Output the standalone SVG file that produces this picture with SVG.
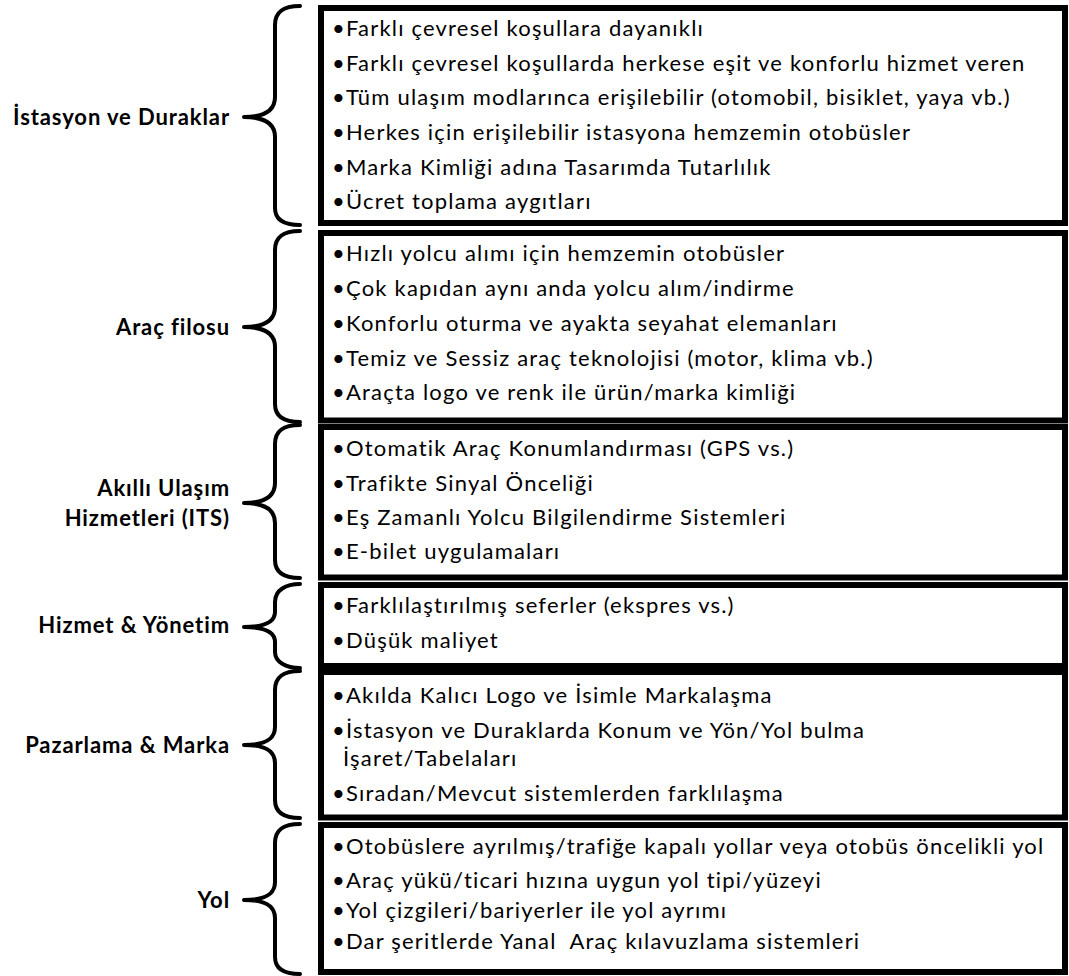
<svg xmlns="http://www.w3.org/2000/svg" width="1069" height="976" viewBox="0 0 1069 976">
  <style>
    .box { fill: #ffffff; stroke: #000000; stroke-width: 6; }
    .brace { fill: none; stroke: #000000; stroke-width: 4; stroke-linecap: round; stroke-linejoin: round; }
    .item { font-family: Lato, "Open Sans", "Liberation Sans", sans-serif; font-size: 22px; letter-spacing: 1.2px; fill: #000000; }
    .label { font-family: Lato, "Open Sans", "Liberation Sans", sans-serif; font-size: 22px; letter-spacing: 0.9px; font-weight: bold; fill: #000000; text-anchor: end; }
  </style>
  <rect width="1069" height="976" fill="#ffffff"/>

  <!-- braces linking each category label to its list -->
  <g id="connectors">
    <path class="brace" d="M300,6 C284,6 275,11 275,25 L275,97 C275,109 266,117 244,117 C266,117 275,125 275,137 L275,208 C275,220 284,225 300,225"/>
    <path class="brace" d="M300,231 C284,231 275,236 275,250 L275,307 C275,319 266,327 244,327 C266,327 275,335 275,347 L275,404 C275,416 284,422 300,422"/>
    <path class="brace" d="M300,425 C284,425 275,430 275,444 L275,483 C275,495 266,503 244,503 C266,503 275,511 275,523 L275,560 C275,572 284,578 300,578"/>
    <path class="brace" d="M300,584 C286,584 275,590 275,602 L275,612 C275,621 266,627 244,627 C266,627 275,633 275,642 L275,652 C275,662 286,668 300,668"/>
    <path class="brace" d="M300,671 C284,671 275,676 275,690 L275,727 C275,739 266,745 244,745 C266,745 275,751 275,763 L275,800 C275,812 284,818 300,818"/>
    <path class="brace" d="M300,824 C284,824 275,829 275,843 L275,882 C275,894 266,900 244,900 C266,900 275,906 275,918 L275,957 C275,969 284,974 300,974"/>
  </g>

  <g id="stations">
    <text class="label" x="230" y="125">İstasyon ve Duraklar</text>
    <rect class="box" x="321" y="8" width="744" height="215"/>
    <text class="item" x="332" y="36">•Farklı çevresel koşullara dayanıklı</text>
    <text class="item" x="332" y="71">•Farklı çevresel koşullarda herkese eşit ve konforlu hizmet veren</text>
    <text class="item" x="332" y="105">•Tüm ulaşım modlarınca erişilebilir (otomobil, bisiklet, yaya vb.)</text>
    <text class="item" x="332" y="140">•Herkes için erişilebilir istasyona hemzemin otobüsler</text>
    <text class="item" x="332" y="175">•Marka Kimliği adına Tasarımda Tutarlılık</text>
    <text class="item" x="332" y="209">•Ücret toplama aygıtları</text>
  </g>

  <g id="fleet">
    <text class="label" x="230" y="335">Araç filosu</text>
    <rect class="box" x="321" y="233" width="744" height="187.5"/>
    <text class="item" x="332" y="261">•Hızlı yolcu alımı için hemzemin otobüsler</text>
    <text class="item" x="332" y="296">•Çok kapıdan aynı anda yolcu alım/indirme</text>
    <text class="item" x="332" y="331">•Konforlu oturma ve ayakta seyahat elemanları</text>
    <text class="item" x="332" y="366">•Temiz ve Sessiz araç teknolojisi (motor, klima vb.)</text>
    <text class="item" x="332" y="400">•Araçta logo ve renk ile ürün/marka kimliği</text>
  </g>

  <g id="its">
    <text class="label" x="230" y="496">Akıllı Ulaşım</text>
    <text class="label" x="230" y="526">Hizmetleri (ITS)</text>
    <rect class="box" x="321" y="427" width="744" height="150.5"/>
    <text class="item" x="332" y="456">•Otomatik Araç Konumlandırması (GPS vs.)</text>
    <text class="item" x="332" y="491">•Trafikte Sinyal Önceliği</text>
    <text class="item" x="332" y="525">•Eş Zamanlı Yolcu Bilgilendirme Sistemleri</text>
    <text class="item" x="332" y="559">•E-bilet uygulamaları</text>
  </g>

  <g id="service">
    <text class="label" x="230" y="633">Hizmet &amp; Yönetim</text>
    <rect class="box" x="321" y="585" width="744" height="81"/>
    <text class="item" x="332" y="613">•Farklılaştırılmış seferler (ekspres vs.)</text>
    <text class="item" x="332" y="648">•Düşük maliyet</text>
  </g>

  <g id="marketing">
    <text class="label" x="230" y="753">Pazarlama &amp; Marka</text>
    <rect class="box" x="321" y="672" width="744" height="145.5"/>
    <text class="item" x="332" y="703">•Akılda Kalıcı Logo ve İsimle Markalaşma</text>
    <text class="item" x="332" y="738">•İstasyon ve Duraklarda Konum ve Yön/Yol bulma</text>
    <text class="item" x="343" y="766">İşaret/Tabelaları</text>
    <text class="item" x="332" y="801">•Sıradan/Mevcut sistemlerden farklılaşma</text>
  </g>

  <g id="road">
    <text class="label" x="230" y="908">Yol</text>
    <rect class="box" x="321" y="825" width="744" height="147"/>
    <text class="item" x="332" y="854">•Otobüslere ayrılmış/trafiğe kapalı yollar veya otobüs öncelikli yol</text>
    <text class="item" x="332" y="888">•Araç yükü/ticari hızına uygun yol tipi/yüzeyi</text>
    <text class="item" x="332" y="918">•Yol çizgileri/bariyerler ile yol ayrımı</text>
    <text class="item" x="332" y="949">•Dar şeritlerde Yanal&#160; Araç kılavuzlama sistemleri</text>
  </g>
</svg>
